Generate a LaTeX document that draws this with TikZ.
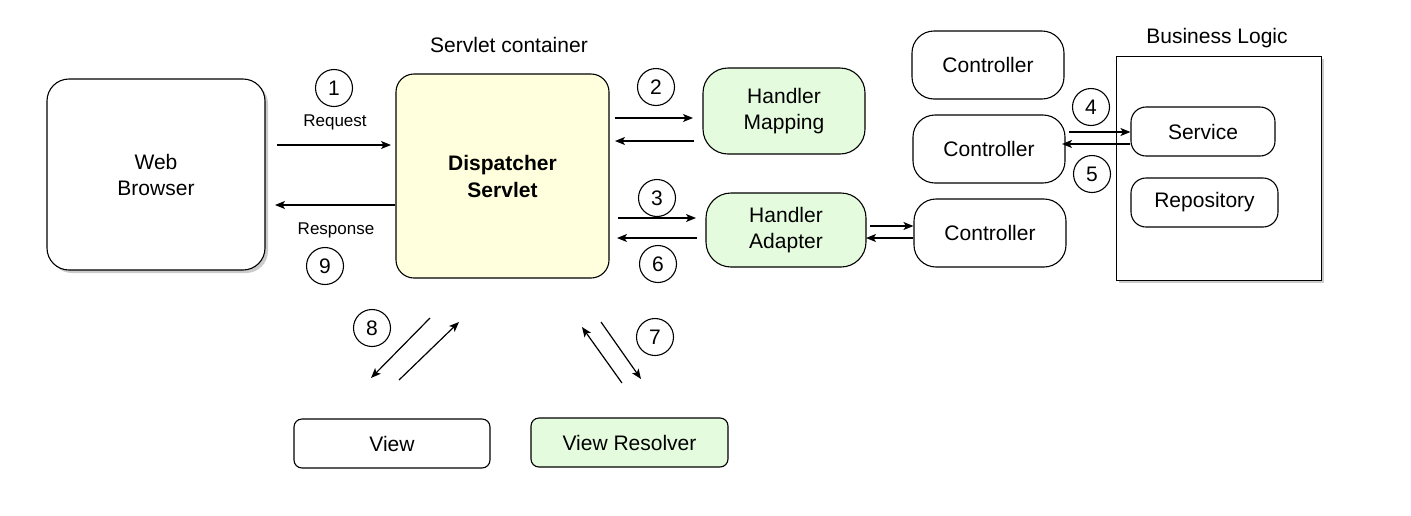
\documentclass[tikz,border=0pt]{standalone}
\usepackage{fontspec}
\setmainfont{Liberation Sans}
\usetikzlibrary{shadows,arrows.meta}
\definecolor{dsfill}{HTML}{FFFFDD}
\definecolor{grfill}{HTML}{E4FBDD}
\definecolor{shad}{HTML}{A8A8A8}
\begin{document}
\begin{tikzpicture}[x=1pt,y=-1pt,
  box/.style={draw, line width=1.1pt, rounded corners=#1, align=center, inner sep=0pt,
    font=\fontsize{21}{26}\selectfont},
  shd/.style={drop shadow={shadow xshift=3pt, shadow yshift=-3pt, fill=shad, opacity=0.6}},
  circ/.style={circle, draw, line width=1.1pt, minimum size=37pt, inner sep=0pt,
    font=\fontsize{21}{24}\selectfont},
  lbl/.style={font=\fontsize{21}{24}\selectfont, inner sep=0pt},
  small/.style={font=\fontsize{17}{20}\selectfont, inner sep=0pt},
  arr/.style={line width=1.2pt, -{Stealth[length=10pt,width=8pt,inset=2.5pt]}}
]
\useasboundingbox (0,0) rectangle (1411,515);

% main boxes
\node[box=22, shd, fill=white, minimum width=218pt, minimum height=191pt] (wb) at (156,174.5) {Web\\Browser};
\node[lbl] (sc) at (509,45) {Servlet container};
\node[box=18, fill=dsfill, minimum width=213pt, minimum height=204pt, font=\fontsize{21}{27}\selectfont\bfseries] (ds) at (502.5,176) {Dispatcher\\Servlet};
\node[box=25, fill=grfill, minimum width=162pt, minimum height=86pt] (hm) at (784,111) {Handler\\Mapping};
\node[box=25, fill=grfill, minimum width=160pt, minimum height=74pt] (ha) at (786,230) {Handler\\Adapter};
\node[box=22, minimum width=152pt, minimum height=68pt] (c1) at (988,65) {Controller};
\node[box=22, minimum width=152pt, minimum height=68pt] (c2) at (989,149) {Controller};
\node[box=22, minimum width=152pt, minimum height=68pt] (c3) at (990,233) {Controller};
\node[lbl] (bll) at (1217,38) {Business Logic};
\node[draw, line width=1pt, fill=white, shd, minimum width=205pt, minimum height=224pt, inner sep=0pt] (bl) at (1218.5,168) {};
\node[box=15, minimum width=144pt, minimum height=49pt] (svc) at (1203,131.5) {Service};
\node[box=15, minimum width=147pt, minimum height=49pt] (repo) at (1204.5,202.5) {Repository};
\node[box=8, minimum width=196pt, minimum height=49pt] (view) at (392,443.5) {View};
\node[box=8, fill=grfill, minimum width=197pt, minimum height=49pt] (vr) at (629.5,442.5) {View Resolver};

% numbered circles
\node[circ] (n1) at (334,88) {1};
\node[circ] (n2) at (656,87) {2};
\node[circ] (n3) at (657,198) {3};
\node[circ] (n4) at (1091,107) {4};
\node[circ] (n5) at (1092,174) {5};
\node[circ] (n6) at (658,264) {6};
\node[circ] (n7) at (655,337) {7};
\node[circ] (n8) at (372,328) {8};
\node[circ] (n9) at (325,266) {9};
\node[small] (req) at (335,122) {Request};
\node[small] (resp) at (336,230) {Response};

% arrow end coordinates
\coordinate (r1s) at (277,145);
\coordinate (r1e) at (391,145);
\coordinate (r9e) at (275,205);
\coordinate (h2s) at (615,118);
\coordinate (h2e) at (693,118);
\coordinate (h2bs) at (694,141);
\coordinate (h2be) at (615,141);
\coordinate (a3s) at (618,218);
\coordinate (a3e) at (696,218);
\coordinate (a6s) at (697,238);
\coordinate (a6e) at (617,238);
\coordinate (c3a) at (870,226);
\coordinate (c3b) at (866,238);
\coordinate (s4s) at (1069,132);
\coordinate (s5e) at (1062,144);
\coordinate (v8s) at (430,318);
\coordinate (v8e) at (371,378);
\coordinate (v8bs) at (399,380);
\coordinate (v8be) at (459,322);
\coordinate (v7s) at (622,383);
\coordinate (v7e) at (582,327);
\coordinate (v7bs) at (601,322);
\coordinate (v7be) at (641,379);

% connectors
\draw[arr] (r1s) -- (r1e);
\draw[arr] (ds.west |- r9e) -- (r9e);
\draw[arr] (h2s) -- (h2e);
\draw[arr] (h2bs) -- (h2be);
\draw[arr] (a3s) -- (a3e);
\draw[arr] (a6s) -- (a6e);
\draw[arr] (c3a) -- (c3.west |- c3a);
\draw[arr] (c3.west |- c3b) -- (c3b);
\draw[arr] (s4s) -- (svc.west |- s4s);
\draw[arr] (svc.west |- s5e) -- (s5e);
\draw[arr] (v8s) -- (v8e);
\draw[arr] (v8bs) -- (v8be);
\draw[arr] (v7s) -- (v7e);
\draw[arr] (v7bs) -- (v7be);
\end{tikzpicture}
\end{document}
